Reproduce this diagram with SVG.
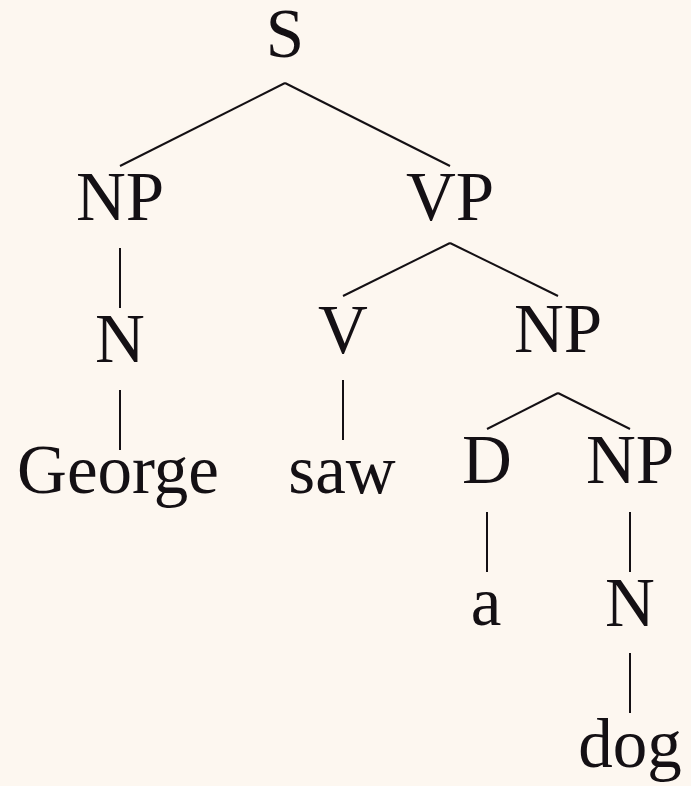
<svg xmlns="http://www.w3.org/2000/svg" width="691" height="786" viewBox="0 0 691 786">
<style>
text{font-family:"Liberation Serif","DejaVu Serif",serif;font-size:69px;fill:#141014;text-anchor:middle}
.e line{stroke:#141014;stroke-width:2;stroke-linecap:butt}
</style>
<rect width="691" height="786" fill="#fdf7f0"/>
<g class="e" id="edges">
<line x1="285" y1="83" x2="120" y2="166"/>
<line x1="285" y1="83" x2="450" y2="166"/>
<line x1="120" y1="248" x2="120" y2="308"/>
<line x1="120" y1="390" x2="120" y2="450"/>
<line x1="450" y1="243" x2="343" y2="296"/>
<line x1="450" y1="243" x2="558" y2="296"/>
<line x1="343" y1="380" x2="343" y2="440"/>
<line x1="558" y1="393" x2="487" y2="429"/>
<line x1="558" y1="393" x2="630" y2="429"/>
<line x1="487" y1="512" x2="487" y2="572"/>
<line x1="630" y1="512" x2="630" y2="572"/>
<line x1="630" y1="653" x2="630" y2="713"/>
</g>
<g id="S"><text x="285" y="57">S</text></g>
<g id="NP1"><text x="120" y="220">NP</text></g>
<g id="VP"><text x="450" y="220">VP</text></g>
<g id="N1"><text x="120" y="362">N</text></g>
<g id="George"><text x="118" y="493">George</text></g>
<g id="V"><text x="343" y="353">V</text></g>
<g id="NP2"><text x="558" y="352">NP</text></g>
<g id="saw"><text x="342" y="493">saw</text></g>
<g id="D"><text x="487" y="483">D</text></g>
<g id="NP3"><text x="630" y="483">NP</text></g>
<g id="a"><text x="486" y="625">a</text></g>
<g id="N2"><text x="630" y="626">N</text></g>
<g id="dog"><text x="630" y="767">dog</text></g>
</svg>
